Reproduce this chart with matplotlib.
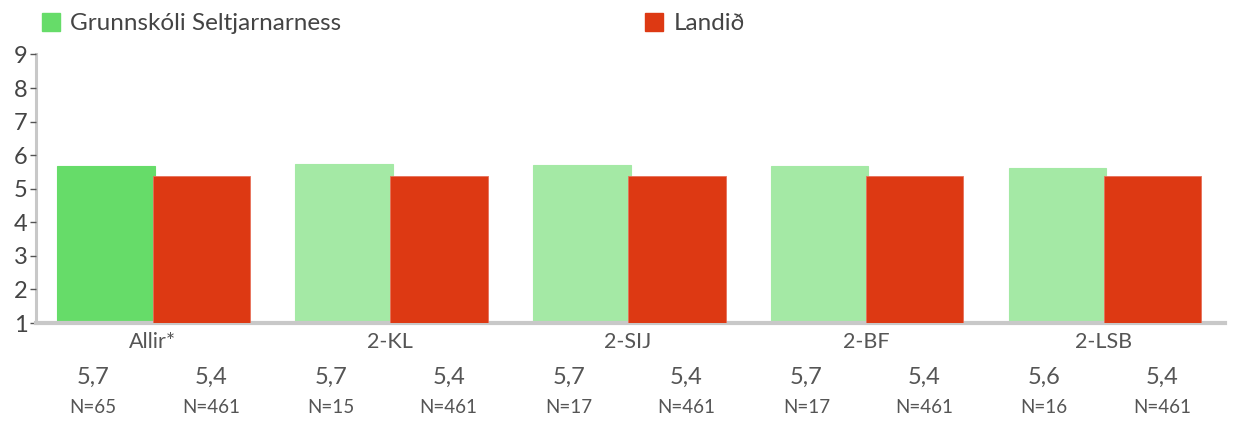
import matplotlib
matplotlib.use("Agg")
import matplotlib.pyplot as plt
from matplotlib.patches import Rectangle

plt.rcParams['font.family'] = ['Lato', 'DejaVu Sans']

categories = ["Allir*", "2-KL", "2-SIJ", "2-BF", "2-LSB"]
school_values = [5.68, 5.74, 5.70, 5.69, 5.61]
country_values = [5.37, 5.37, 5.37, 5.37, 5.37]
school_labels = ["5,7", "5,7", "5,7", "5,7", "5,6"]
country_labels = ["5,4", "5,4", "5,4", "5,4", "5,4"]
school_n = ["N=65", "N=15", "N=17", "N=17", "N=16"]
country_n = ["N=461", "N=461", "N=461", "N=461", "N=461"]
series_names = ["Grunnskóli Seltjarnarness", "Landið"]
yticks = [1, 2, 3, 4, 5, 6, 7, 8, 9]

green_main = "#66dc69"
green_light = "#a4e9a5"
red = "#dd3913"
text_col = "#555555"
axis_col = "#c8c8c8"

W, H = 1234, 423
fig = plt.figure(figsize=(W / 100, H / 100), dpi=100)
ax_h = 323 - 54.5
ax = fig.add_axes([36 / W, 1 - 323 / H, (1225 - 36) / W, ax_h / H])

bw = 0.41
for i in range(len(categories)):
    gc = green_main if i == 0 else green_light
    ax.bar(i - bw / 2, school_values[i] - 1, bottom=1, width=bw, color=gc,
           edgecolor=gc, linewidth=0.8, zorder=2)
    ax.bar(i + bw / 2 - 0.01, country_values[i] - 1, bottom=1, width=bw, color=red,
           edgecolor="#e8705a", linewidth=0.6, zorder=3)

ax.set_xlim(-0.5, len(categories) - 0.5)
ax.set_ylim(1, 9)
ax.set_yticks(yticks)
ax.set_yticklabels([str(v) for v in yticks])
ax.tick_params(axis='y', length=4, width=1, color=text_col, labelcolor="#444444",
               labelsize=17, pad=2)
ax.set_xticks([])
for s in ["top", "right"]:
    ax.spines[s].set_visible(False)
ax.spines["left"].set_color(axis_col)
ax.spines["left"].set_linewidth(2.2)
ax.spines["bottom"].set_color(axis_col)
ax.spines["bottom"].set_linewidth(3)
ax.spines["left"].set_zorder(1)

trans = ax.get_xaxis_transform()
def yf(px):
    return -(px - 323) / ax_h

for i, cat in enumerate(categories):
    ax.text(i - 0.01, yf(348), cat, transform=trans, ha="center", va="baseline",
            fontsize=15.5, color=text_col)
    for off, v, n in [(-0.26, school_labels[i], school_n[i]),
                      (0.235, country_labels[i], country_n[i])]:
        ax.text(i + off, yf(384), v, transform=trans, ha="center", va="baseline",
                fontsize=17, color=text_col)
        ax.text(i + off, yf(413), n, transform=trans, ha="center", va="baseline",
                fontsize=13.5, color=text_col)

# legend
fig.patches.append(Rectangle((42 / W, 1 - 31 / H), 18 / W, 18 / H,
                             transform=fig.transFigure, color=green_main))
fig.text(70 / W, 1 - 30 / H, series_names[0], ha="left", va="baseline",
         fontsize=17.5, color="#444444")
fig.patches.append(Rectangle((645 / W, 1 - 31 / H), 18 / W, 18 / H,
                             transform=fig.transFigure, color=red))
fig.text(674 / W, 1 - 30 / H, series_names[1], ha="left", va="baseline",
         fontsize=17.5, color="#444444")

fig.savefig("out.png", dpi=100)
